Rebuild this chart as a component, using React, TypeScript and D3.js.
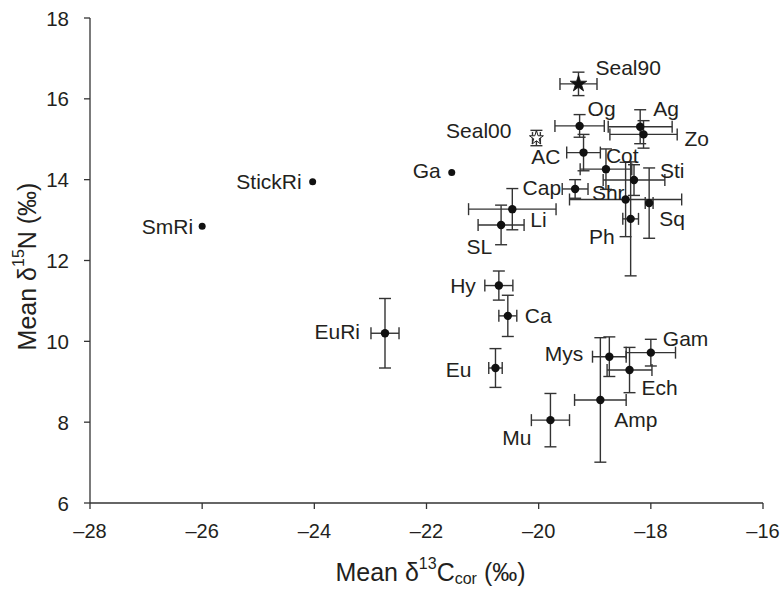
import React from "react";
import * as d3 from "d3";

const names = ["Seal90","Seal00","Og","Ag","Zo","AC","Cot","Sti","Cap","Shr","Sq","Ph","Li","SL","Ga","StickRi","SmRi","EuRi","Hy","Ca","Eu","Mys","Gam","Ech","Amp","Mu"];
const c13 = [-19.29,-20.04,-19.27,-18.19,-18.13,-19.20,-18.80,-18.30,-19.35,-18.45,-18.03,-18.36,-20.47,-20.67,-21.55,-24.03,-26.0,-22.74,-20.71,-20.55,-20.77,-18.74,-18.00,-18.38,-18.90,-19.79];
const n15 = [16.37,15.03,15.33,15.31,15.12,14.67,14.26,13.99,13.77,13.51,13.42,13.03,13.27,12.88,14.18,13.95,12.85,10.20,11.38,10.63,9.34,9.62,9.72,9.29,8.55,8.05];
const c13Err = [0.33,0.07,0.44,0.57,0.60,0.30,0.46,0.55,0.23,1.00,0.07,0.14,0.78,0.41,0,0,0,0.25,0.25,0.16,0.12,0.30,0.44,0.40,0.46,0.34];
const n15Err = [0.29,0.19,0.28,0.42,0.34,0.45,0.50,0.38,0.23,0.92,0.87,1.41,0.51,0.49,0,0,0,0.86,0.36,0.51,0.48,0.49,0.33,0.56,1.54,0.66];
const markers = ["filledStar","openStar","dot","dot","dot","dot","dot","dot","dot","dot","dot","dot","dot","dot","small","small","small","dot","dot","dot","dot","dot","dot","dot","dot","dot"];

const xTicks = [-28,-26,-24,-22,-20,-18,-16];
const yTicks = [6,8,10,12,14,16,18];

// label placement (dx, dy, anchor)
const labelPos: Record<string, [number, number, string]> = {
  Seal90: [17,-16,"start"], Seal00: [-25,-8,"end"], Og: [8,-17,"start"], Ag: [13,-18,"start"],
  Zo: [41,4,"start"], AC: [-23,4,"end"], Cot: [0,-14,"start"], Sti: [26,-10,"start"],
  Cap: [-14,-1,"end"], Shr: [-1,-7,"end"], Sq: [10,15,"start"], Ph: [-16,18,"end"],
  Li: [18,10,"start"], SL: [-9,22,"end"], Ga: [-11,-2,"end"], StickRi: [-11,0,"end"],
  SmRi: [-9,0,"end"], EuRi: [-25,-2,"end"], Hy: [-23,0,"end"], Ca: [17,0,"start"],
  Eu: [-24,1,"end"], Mys: [-26,-3,"end"], Gam: [12,-14,"start"], Ech: [12,17,"start"],
  Amp: [14,20,"start"], Mu: [-19,17,"end"],
};

const W = 781, H = 589;
const FONT = "'Liberation Sans', Arial, Helvetica, sans-serif";
const INK = "#231f20";
const LINE = "#333";

export default function App() {
  const x = d3.scaleLinear().domain([-28, -16]).range([90, 763]);
  const y = d3.scaleLinear().domain([6, 18]).range([503, 18]);
  const cap = 6;
  const filledStar = d3.symbol().type(d3.symbolStar).size(85)() as string;
  const openStar = d3.symbol().type(d3.symbolStar).size(60)() as string;
  const fmt = (v: number) => (v < 0 ? "\u2013" + Math.abs(v) : String(v));

  return (
    <svg width={W} height={H} style={{ position: "absolute", left: 0, top: 0, background: "#fff" }} fontFamily={FONT}>
      {/* axes */}
      <line x1={x(-28)} x2={x(-28)} y1={y(18)} y2={y(6)} stroke={LINE} strokeWidth={1.3} />
      <line x1={x(-28)} x2={x(-16)} y1={y(6)} y2={y(6)} stroke={LINE} strokeWidth={1.3} />
      {yTicks.map((t) => (
        <g key={"y" + t}>
          <line x1={x(-28) - 6} x2={x(-28)} y1={y(t)} y2={y(t)} stroke={LINE} strokeWidth={1.3} />
          <text x={x(-28) - 21} y={y(t)} textAnchor="end" dominantBaseline="central" fontSize={20.5} fill={INK}>{fmt(t)}</text>
        </g>
      ))}
      {xTicks.map((t) => (
        <g key={"x" + t}>
          <line x1={x(t)} x2={x(t)} y1={y(6)} y2={y(6) + 6} stroke={LINE} strokeWidth={1.3} />
          <text x={x(t)} y={y(6) + 28} textAnchor="middle" dominantBaseline="central" fontSize={20} fill={INK}>{fmt(t)}</text>
        </g>
      ))}
      <text x={(x(-28) + x(-16)) / 2 + 4} y={572} textAnchor="middle" dominantBaseline="central" fontSize={25} fill={INK}>
        Mean δ<tspan fontSize={16} dy={-9}>13</tspan><tspan dy={9}>C</tspan><tspan fontSize={16} dy={6}>cor</tspan><tspan dy={-6}> (‰)</tspan>
      </text>
      <text transform={`translate(27,${(y(6) + y(18)) / 2 + 6}) rotate(-90)`} textAnchor="middle" dominantBaseline="central" fontSize={25} fill={INK}>
        Mean δ<tspan fontSize={16} dy={-9}>15</tspan><tspan dy={9}>N (‰)</tspan>
      </text>

      {/* error bars */}
      {names.map((n, i) => {
        const cx = x(c13[i]), cy = y(n15[i]);
        const out: React.ReactNode[] = [];
        if (c13Err[i] > 0) {
          const x0 = x(c13[i] - c13Err[i]), x1 = x(c13[i] + c13Err[i]);
          out.push(<line key="h" x1={x0} x2={x1} y1={cy} y2={cy} />);
          out.push(<line key="hl" x1={x0} x2={x0} y1={cy - cap} y2={cy + cap} />);
          out.push(<line key="hr" x1={x1} x2={x1} y1={cy - cap} y2={cy + cap} />);
        }
        if (n15Err[i] > 0) {
          const y0 = y(n15[i] + n15Err[i]), y1 = y(n15[i] - n15Err[i]);
          out.push(<line key="v" x1={cx} x2={cx} y1={y0} y2={y1} />);
          out.push(<line key="vt" x1={cx - cap} x2={cx + cap} y1={y0} y2={y0} />);
          out.push(<line key="vb" x1={cx - cap} x2={cx + cap} y1={y1} y2={y1} />);
        }
        return <g key={"e" + n} stroke={LINE} strokeWidth={1.4}>{out}</g>;
      })}

      {/* markers */}
      {names.map((n, i) => {
        const cx = x(c13[i]), cy = y(n15[i]);
        const m = markers[i];
        if (m === "filledStar") return <path key={"m" + n} d={filledStar} transform={`translate(${cx},${cy})`} fill="#111" stroke="#111" strokeWidth={0.8} />;
        if (m === "openStar") return <path key={"m" + n} d={openStar} transform={`translate(${cx},${cy})`} fill="#fff" stroke="#222" strokeWidth={1} />;
        return <circle key={"m" + n} cx={cx} cy={cy} r={m === "small" ? 3.5 : 4.2} fill="#111" />;
      })}

      {/* labels */}
      {names.map((n, i) => {
        const [dx, dy, anchor] = labelPos[n];
        return (
          <text key={"l" + n} x={x(c13[i]) + dx} y={y(n15[i]) + dy} textAnchor={anchor as any} dominantBaseline="central" fontSize={21} fill={INK}>{n}</text>
        );
      })}
    </svg>
  );
}
